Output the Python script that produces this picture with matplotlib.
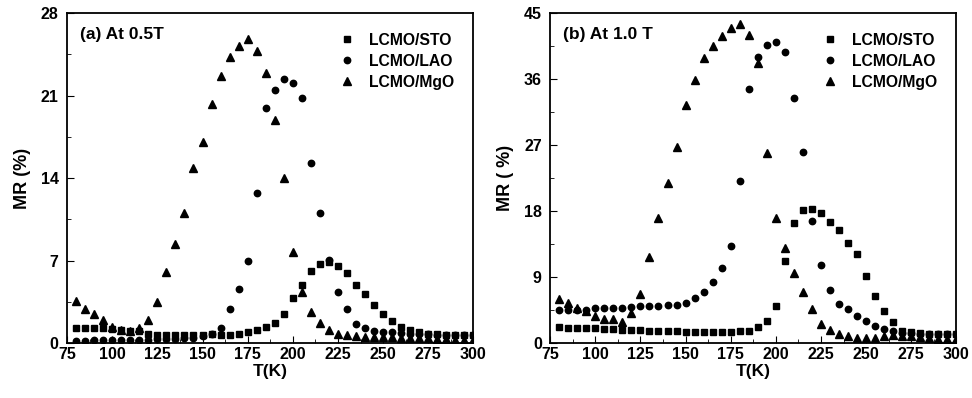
import numpy as np
import matplotlib
matplotlib.use("Agg")
import matplotlib.pyplot as plt
from matplotlib.ticker import MultipleLocator

plt.rcParams['font.family'] = ['Liberation Sans', 'DejaVu Sans']
plt.rcParams['font.weight'] = 'bold'

T = [80, 85, 90, 95, 100, 105, 110, 115, 120, 125, 130, 135, 140, 145, 150,
     155, 160, 165, 170, 175, 180, 185, 190, 195, 200, 205, 210, 215, 220, 225,
     230, 235, 240, 245, 250, 255, 260, 265, 270, 275, 280, 285, 290, 295, 300]

# (a) 0.5 T
sto_05 = [1.3, 1.3, 1.3, 1.25, 1.2, 1.1, 1.05, 1.0, 0.76, 0.72, 0.7, 0.7, 0.7, 0.7, 0.7,
          0.75, 0.65, 0.65, 0.76, 0.9, 1.07, 1.33, 1.67, 2.43, 3.85, 4.97, 6.14, 6.7, 6.9, 6.53,
          5.97, 4.97, 4.13, 3.22, 2.43, 1.87, 1.39, 1.1, 0.9, 0.8, 0.75, 0.7, 0.7, 0.7, 0.7]
lao_05 = [0.2, 0.2, 0.22, 0.22, 0.25, 0.25, 0.28, 0.3, 0.3, 0.32, 0.35, 0.38, 0.4, 0.45, 0.6,
          0.8, 1.27, 2.88, 4.58, 6.98, 12.7, 19.96, 21.5, 22.4, 22.1, 20.8, 15.3, 11.05, 7.04, 4.3,
          2.88, 1.58, 1.3, 1.05, 0.95, 0.9, 0.85, 0.8, 0.75, 0.75, 0.7, 0.7, 0.7, 0.7, 0.7]
mgo_05 = [3.56, 2.9, 2.43, 1.98, 1.39, 1.15, 1.0, 1.3, 1.95, 3.45, 6.0, 8.4, 11.0, 14.87, 17.1,
          20.3, 22.7, 24.3, 25.2, 25.8, 24.8, 22.9, 18.9, 14.0, 7.7, 4.35, 2.6, 1.67, 1.1, 0.74,
          0.65, 0.6, 0.55, 0.5, 0.5, 0.5, 0.45, 0.45, 0.4, 0.4, 0.35, 0.35, 0.3, 0.3, 0.3]

# (b) 1.0 T
sto_10 = [2.2, 2.1, 2.05, 2.0, 2.0, 1.95, 1.9, 1.85, 1.8, 1.75, 1.7, 1.7, 1.65, 1.6, 1.55,
          1.5, 1.5, 1.5, 1.5, 1.55, 1.6, 1.7, 2.2, 3.0, 5.05, 11.2, 16.4, 18.1, 18.35, 17.7,
          16.5, 15.4, 13.6, 12.1, 9.2, 6.4, 4.4, 2.9, 1.7, 1.5, 1.4, 1.3, 1.25, 1.2, 1.2]
lao_10 = [4.5, 4.5, 4.5, 4.55, 4.73, 4.8, 4.8, 4.85, 4.95, 5.05, 5.1, 5.1, 5.2, 5.2, 5.4,
          6.1, 7.0, 8.36, 10.3, 13.3, 22.1, 34.6, 39.0, 40.6, 41.05, 39.7, 33.45, 26.1, 16.6, 10.7,
          7.2, 5.3, 4.6, 3.7, 3.0, 2.36, 1.86, 1.6, 1.4, 1.35, 1.3, 1.3, 1.3, 1.3, 1.3]
mgo_10 = [5.96, 5.5, 4.8, 4.4, 3.68, 3.23, 3.23, 2.9, 4.1, 6.7, 11.8, 17.1, 21.9, 26.8, 32.5,
          35.9, 38.9, 40.5, 41.9, 43.0, 43.5, 42.0, 38.2, 25.95, 17.1, 13.0, 9.5, 6.9, 4.6, 2.55,
          1.77, 1.18, 1.0, 0.68, 0.68, 0.7, 1.0, 1.1, 1.0, 0.9, 0.8, 0.7, 0.6, 0.6, 0.5]

labels = ["LCMO/STO", "LCMO/LAO", "LCMO/MgO"]
panels = [
    ("(a) At 0.5T", "MR (%)", [sto_05, lao_05, mgo_05], 28, 7),
    ("(b) At 1.0 T", "MR ( %)", [sto_10, lao_10, mgo_10], 45, 9),
]

fig = plt.figure(figsize=(9.72, 3.98), dpi=100)
lefts = [0.069, 0.566]
for left, (title, ylab, series, ymax, ystep) in zip(lefts, panels):
    ax = fig.add_axes([left, 0.138, 0.418, 0.829])
    for y, m, lab in zip(series, ["s", "o", "^"], labels):
        ax.plot(T, y, linestyle="none", marker=m, color="black",
                markersize=4.6 if m != "^" else 5.4, label=lab)
    ax.set_xlim(75, 300)
    ax.set_ylim(0, ymax)
    ax.xaxis.set_major_locator(MultipleLocator(25))
    ax.xaxis.set_minor_locator(MultipleLocator(12.5))
    ax.yaxis.set_major_locator(MultipleLocator(ystep))
    ax.yaxis.set_minor_locator(MultipleLocator(ystep / 2))
    ax.tick_params(which="both", direction="in", labelsize=11.5, top=False, right=False)
    ax.tick_params(axis="y", pad=6)
    ax.tick_params(axis="x", pad=3)
    ax.tick_params(which="major", length=5)
    ax.tick_params(which="minor", length=3)
    for s in ax.spines.values():
        s.set_linewidth(1.3)
    ax.set_xlabel("T(K)", fontsize=12.5, fontweight="bold", labelpad=1)
    ax.set_ylabel(ylab, fontsize=13, fontweight="bold", labelpad=7)
    ax.text(0.032, 0.935, title, transform=ax.transAxes, fontsize=12.5,
            fontweight="bold", va="center")
    ax.legend(loc="upper right", frameon=False, fontsize=11.3, handletextpad=0.9,
              handlelength=1.0, borderaxespad=0.85, labelspacing=0.38)

fig.savefig("out.png", dpi=100)
